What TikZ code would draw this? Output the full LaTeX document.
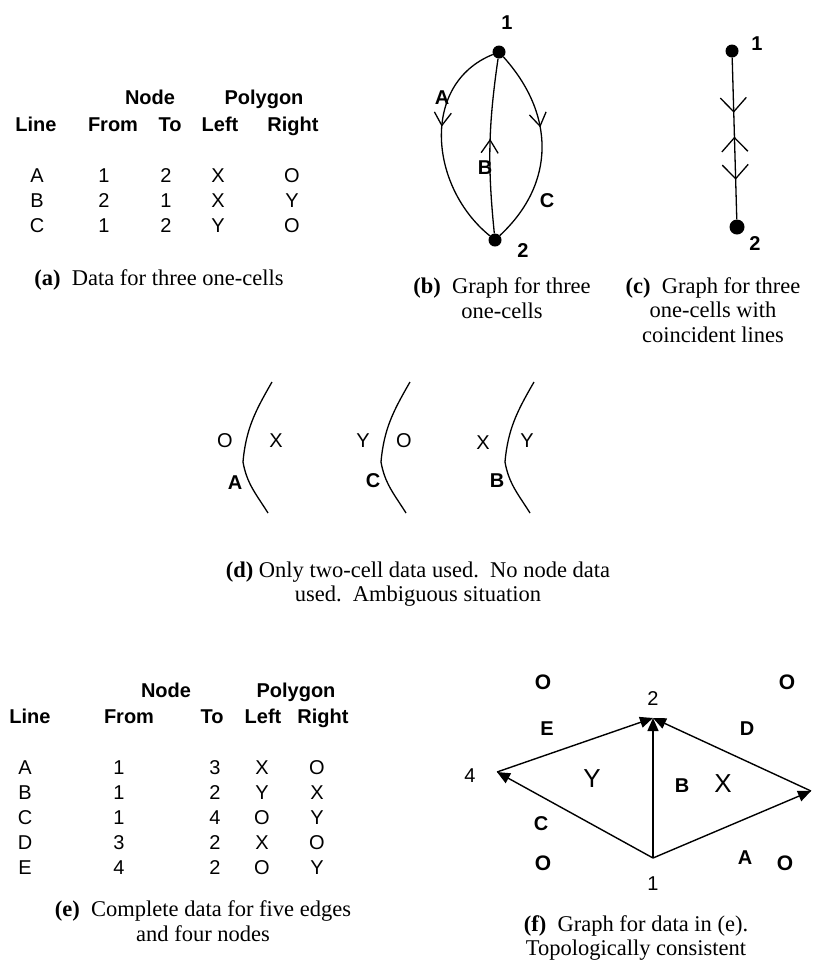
\documentclass[tikz,border=0pt]{standalone}
\usepackage{fontspec}
\setmainfont{Liberation Serif}
\setsansfont{Liberation Sans}
\usetikzlibrary{arrows.meta, positioning, decorations.markings}

\tikzset{
    tabhead/.style={font=\sffamily\bfseries\fontsize{20}{22}\selectfont, inner sep=0pt, text height=14.3pt, text depth=0pt},
    tabcell/.style={font=\sffamily\fontsize{20}{22}\selectfont, inner sep=0pt, text height=14.3pt, text depth=0pt},
    celllabel/.style={tabhead},
    plainlabel/.style={tabcell},
    biglabel/.style={font=\sffamily\fontsize{26}{28}\selectfont, inner sep=0pt, text height=18.6pt, text depth=0pt},
    olabel/.style={font=\sffamily\bfseries\fontsize{21}{23}\selectfont, inner sep=0pt, text height=15pt, text depth=0pt},
    capt/.style={font=\fontsize{22.5}{24.5}\selectfont, align=center, inner sep=0pt},
    dot/.style={circle, fill=black, inner sep=0pt, minimum size=#1},
    dot/.default=13pt,
    oneline/.style={line width=1.3pt},
    barb/.style={postaction=decorate, decoration={markings,
        mark=at position #1 with {\arrow{Straight Barb[length=13pt, width=17pt]}}}},
    edge/.style={line width=1.4pt, -{Triangle[length=13pt, width=11pt]}},
}

\begin{document}
\begin{tikzpicture}[x=1pt, y=1pt]
    \useasboundingbox (0,0) rectangle (830,-978);

    % (a) data table
    \node[tabhead] (a-node) at (150,-97) {Node};
    \node[tabhead] (a-poly) at (264,-97) {Polygon};
    \node[tabhead] (a-line) at (36,-124) {Line};
    \node[tabhead] (a-from) at (113,-124) {From};
    \node[tabhead] (a-to) at (170,-124) {To};
    \node[tabhead] (a-left) at (220,-124) {Left};
    \node[tabhead] (a-right) at (293,-124) {Right};
    \foreach \lin/\fr/\too/\lf/\rt [count=\i] in {A/1/2/X/O, B/2/1/X/Y, C/1/2/Y/O} {
        \node[tabcell] (a-lin\i) at (37,-150-25*\i) {\lin};
        \node[tabcell] (a-fr\i) at (104,-150-25*\i) {\fr};
        \node[tabcell] (a-to\i) at (166,-150-25*\i) {\too};
        \node[tabcell] (a-lf\i) at (218,-150-25*\i) {\lf};
        \node[tabcell] (a-rt\i) at (292,-150-25*\i) {\rt};
    }
    \node[capt] (a-cap) at (159,-280) {\textbf{(a)}\ \ Data for three one-cells};

    % (b) graph for three one-cells
    \node[dot] (b1) at (499,-52) {};
    \node[dot] (b2) at (495,-240) {};
    \node[celllabel] (b1-lab) at (507,-22) {1};
    \node[celllabel] (b2-lab) at (523,-250) {2};
    \draw[oneline, barb=0.43] (b1) to[out=202, in=141, looseness=1.1] (b2);
    \draw[oneline, barb=0.54] (b2) to[bend left=7] (b1);
    \draw[oneline, barb=0.40] (b1) to[out=-48, in=43, looseness=1.1] (b2);
    \node[celllabel] (b-A) at (442,-97) {A};
    \node[celllabel] (b-B) at (485,-167) {B};
    \node[celllabel] (b-C) at (547,-200) {C};
    \node[capt] (b-cap) at (502,-298) {\textbf{(b)}\ \ Graph for three\\one-cells};

    % (c) coincident lines
    \node[dot] (c1) at (732,-51) {};
    \node[dot=15pt] (c2) at (737,-227) {};
    \node[celllabel] (c1-lab) at (757,-43) {1};
    \node[celllabel] (c2-lab) at (755,-243) {2};
    \draw[oneline, postaction=decorate, decoration={markings,
        mark=at position 55pt with {\arrow{Straight Barb[length=14pt, width=26pt]}},
        mark=at position 79pt with {\arrowreversed{Straight Barb[length=14pt, width=26pt]}},
        mark=at position 122pt with {\arrow{Straight Barb[length=14pt, width=26pt]}}}]
        (c1) -- (c2);
    \node[capt] (c-cap) at (713,-310) {\textbf{(c)}\ \ Graph for three\\one-cells with\\coincident lines};

    % (d) two-cell data only
    \foreach \dx in {0,138,262}
        \draw[oneline] (272+\dx,-382) to[out=240, in=85] (243+\dx,-462) to[out=280, in=122] (268+\dx,-513);
    \node[plainlabel] (d-O1) at (225,-440) {O};
    \node[plainlabel] (d-X1) at (276,-440) {X};
    \node[celllabel] (d-A) at (235,-482) {A};
    \node[plainlabel] (d-Y2) at (363,-440) {Y};
    \node[plainlabel] (d-O2) at (404,-440) {O};
    \node[celllabel] (d-C) at (373,-480) {C};
    \node[plainlabel] (d-X3) at (483,-442) {X};
    \node[plainlabel] (d-Y3) at (527,-440) {Y};
    \node[celllabel] (d-B) at (497,-480) {B};
    \node[capt] (d-cap) at (418,-584) {\textbf{(d)} Only two-cell data used.\ \ No node data\\used.\ \ Ambiguous situation};

    % (e) complete data table
    \node[tabhead] (e-node) at (166,-690) {Node};
    \node[tabhead] (e-poly) at (296,-690) {Polygon};
    \node[tabhead] (e-line) at (30,-716) {Line};
    \node[tabhead] (e-from) at (129,-716) {From};
    \node[tabhead] (e-to) at (212,-716) {To};
    \node[tabhead] (e-left) at (263,-716) {Left};
    \node[tabhead] (e-right) at (323,-716) {Right};
    \foreach \lin/\fr/\too/\lf/\rt [count=\i] in {A/1/3/X/O, B/1/2/Y/X, C/1/4/O/Y, D/3/2/X/O, E/4/2/O/Y} {
        \node[tabcell] (e-lin\i) at (25,-742-25*\i) {\lin};
        \node[tabcell] (e-fr\i) at (119,-742-25*\i) {\fr};
        \node[tabcell] (e-to\i) at (215,-742-25*\i) {\too};
        \node[tabcell] (e-lf\i) at (262,-742-25*\i) {\lf};
        \node[tabcell] (e-rt\i) at (317,-742-25*\i) {\rt};
    }
    \node[capt] (e-cap) at (203,-921) {\textbf{(e)}\ \ Complete data for five edges\\and four nodes};

    % (f) graph for data in (e)
    \coordinate (f1) at (653,-858);
    \coordinate (f2) at (653,-718);
    \coordinate (f3) at (811,-791);
    \coordinate (f4) at (497,-772);
    \draw[edge] (f4) -- (f2);
    \draw[edge] (f3) -- (f2);
    \draw[edge] (f1) -- (f2);
    \draw[edge] (f1) -- (f4);
    \draw[edge] (f1) -- (f3);
    \node[plainlabel] (f1-lab) at (653,-883) {1};
    \node[plainlabel] (f2-lab) at (653,-698) {2};
    \node[plainlabel] (f4-lab) at (470,-775) {4};
    \node[celllabel] (f-E) at (547,-728) {E};
    \node[celllabel] (f-D) at (747,-728) {D};
    \node[celllabel] (f-B) at (682,-785) {B};
    \node[celllabel] (f-C) at (541,-823) {C};
    \node[celllabel] (f-A) at (745,-857) {A};
    \node[biglabel] (f-Y) at (592,-778) {Y};
    \node[biglabel] (f-X) at (723,-783) {X};
    \node[olabel] (f-O1) at (543,-682) {O};
    \node[olabel] (f-O2) at (787,-682) {O};
    \node[olabel] (f-O3) at (543,-863) {O};
    \node[olabel] (f-O4) at (785,-863) {O};
    \node[capt] (f-cap) at (636,-938) {\textbf{(f)}\ \ Graph for data in (e).\\Topologically consistent};
\end{tikzpicture}
\end{document}
